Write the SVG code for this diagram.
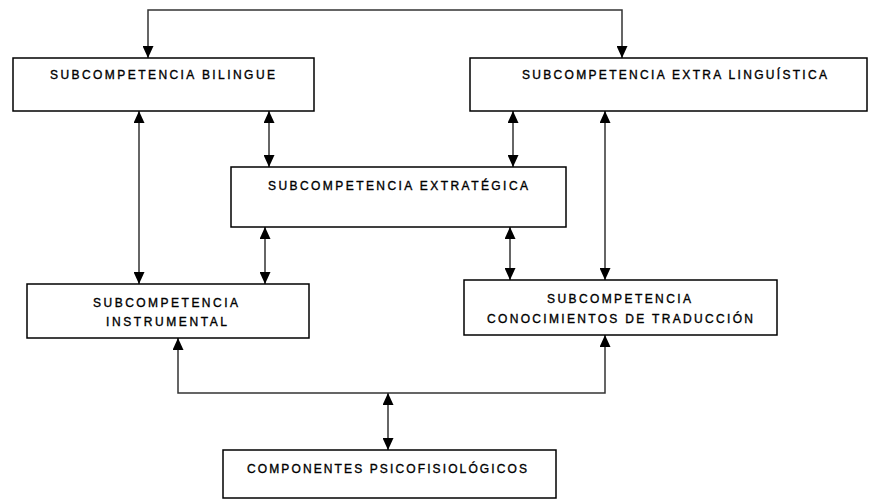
<svg xmlns="http://www.w3.org/2000/svg" width="871" height="500" viewBox="0 0 871 500">
<defs>
<marker id="arr" markerWidth="12" markerHeight="11" refX="12" refY="5.5" orient="auto-start-reverse" markerUnits="userSpaceOnUse">
<path d="M0,0 L12,5.5 L0,11 z" fill="#000"/>
</marker>
</defs>
<style>
.box{fill:#fff;stroke:#000;stroke-width:1.5}
.t{font-family:"Liberation Sans",Arial,sans-serif;font-size:12px;fill:#000;stroke:#000;stroke-width:0.35;text-anchor:start}
.c{fill:none;stroke:#333;stroke-width:1.5;marker-start:url(#arr);marker-end:url(#arr)}
</style>
<rect width="871" height="500" fill="#fff"/>
<g id="connectors">
<path class="c" d="M148,58 L148,10 L622,10 L622,58"/>
<path class="c" d="M139,111 L139,284"/>
<path class="c" d="M269,111 L269,167"/>
<path class="c" d="M513,111 L513,167"/>
<path class="c" d="M265,227 L265,284"/>
<path class="c" d="M510,227 L510,280"/>
<path class="c" d="M605,111 L605,280"/>
<path class="c" d="M178,338 L178,393 L605,393 L605,335"/>
<path class="c" d="M388,393 L388,450"/>
</g>
<g id="bilingue">
<rect class="box" x="13" y="58" width="301" height="53"/>
<text class="t" x="50" y="79" textLength="225" lengthAdjust="spacing">SUBCOMPETENCIA BILINGUE</text>
</g>
<g id="extralinguistica">
<rect class="box" x="470" y="58" width="397" height="53"/>
<text class="t" x="522" y="79" textLength="305" lengthAdjust="spacing">SUBCOMPETENCIA EXTRA LINGUÍSTICA</text>
</g>
<g id="estrategica">
<rect class="box" x="231" y="167" width="335" height="60"/>
<text class="t" x="268" y="190" textLength="260" lengthAdjust="spacing">SUBCOMPETENCIA EXTRATÉGICA</text>
</g>
<g id="instrumental">
<rect class="box" x="27" y="284" width="282" height="54"/>
<text class="t" x="93" y="307" textLength="145" lengthAdjust="spacing">SUBCOMPETENCIA</text>
<text class="t" x="106" y="326" textLength="121" lengthAdjust="spacing">INSTRUMENTAL</text>
</g>
<g id="conocimientos">
<rect class="box" x="464" y="280" width="313" height="55"/>
<text class="t" x="547" y="303" textLength="144" lengthAdjust="spacing">SUBCOMPETENCIA</text>
<text class="t" x="487" y="323" textLength="266" lengthAdjust="spacing">CONOCIMIENTOS DE TRADUCCIÓN</text>
</g>
<g id="psicofisiologicos">
<rect class="box" x="223" y="450" width="333" height="48"/>
<text class="t" x="247" y="473" textLength="280" lengthAdjust="spacing">COMPONENTES PSICOFISIOLÓGICOS</text>
</g>
</svg>
